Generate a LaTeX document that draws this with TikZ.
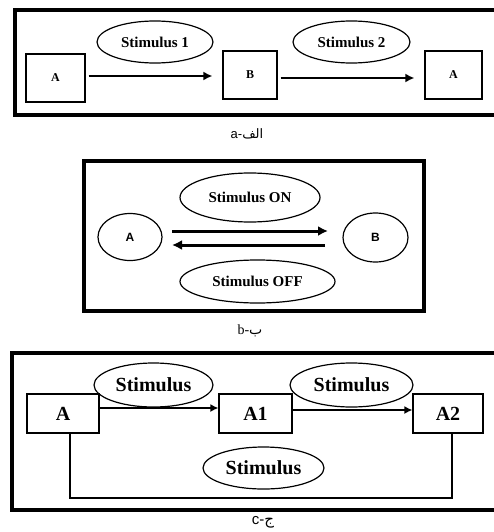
\documentclass[tikz,border=0pt]{standalone}
\usepackage{fontspec}
\setmainfont{Liberation Serif}
\setsansfont{Liberation Sans}
\newfontfamily\arabicfont[Script=Arabic]{DejaVu Sans}
\TeXXeTstate=1
\usetikzlibrary{arrows.meta}
\usetikzlibrary{shapes.geometric}

\tikzset{
  frame/.style={draw,line width=4.5pt},
  statebox/.style={draw,line width=1.2pt,inner sep=0pt},
  stim/.style={draw,ellipse,line width=1.2pt,inner sep=0pt,font=\bfseries},
  caption/.style={font=\sffamily\fontsize{13}{15}\selectfont}
}

\begin{document}
\begin{tikzpicture}[x=1pt,y=-1pt]
  \useasboundingbox (0,0) rectangle (494,532);

  % panel a
  \draw[frame] (15,10) rectangle (499,115);
  \node[statebox,minimum width=59pt,minimum height=48pt,font=\bfseries\fontsize{12}{14}\selectfont] (a1) at (55.5,78) {A};
  \node[statebox,minimum width=54pt,minimum height=48pt,font=\bfseries\fontsize{12}{14}\selectfont] (b1) at (250,75) {B};
  \node[statebox,minimum width=57pt,minimum height=48pt,font=\bfseries\fontsize{12}{14}\selectfont] (a2) at (453.5,75) {A};
  \node[stim,minimum width=116pt,minimum height=42pt,font=\bfseries\fontsize{15}{17}\selectfont] (s1) at (155,42) {Stimulus 1};
  \node[stim,minimum width=117pt,minimum height=42pt,font=\bfseries\fontsize{15}{17}\selectfont] (s2) at (351.5,42) {Stimulus 2};
  \coordinate (a1e) at (a1.east |- 0,76);
  \coordinate (b1w) at (b1.west |- 0,76);
  \coordinate (b1e) at (b1.east |- 0,78);
  \coordinate (a2w) at (a2.west |- 0,78);
  \path[-{Latex[length=9pt,width=9pt]},line width=2.5pt,shorten <=3pt,shorten >=10pt]
    (a1e) edge (b1w)
    (b1e) edge (a2w);
  \node[caption] (capa) at (247,134) {a-{\arabicfont\beginR الف\endR}};

  % panel b
  \draw[frame] (84,161) rectangle (424,311);
  \node[draw,ellipse,line width=1.2pt,minimum width=64pt,minimum height=47pt,font=\sffamily\bfseries\fontsize{12}{14}\selectfont] (ca) at (130,237) {A};
  \node[draw,ellipse,line width=1.2pt,minimum width=65pt,minimum height=49pt,font=\sffamily\bfseries\fontsize{12}{14}\selectfont] (cb) at (375.5,237.5) {B};
  \node[stim,minimum width=140pt,minimum height=49pt,font=\bfseries\fontsize{15}{17}\selectfont] (son) at (250,197.5) {Stimulus ON};
  \node[stim,minimum width=155pt,minimum height=43pt,font=\bfseries\fontsize{15}{17}\selectfont] (soff) at (257.5,281.5) {Stimulus OFF};
  \coordinate (caa) at (172,231);
  \coordinate (cbb) at (328,231);
  \coordinate (cbc) at (325,245);
  \coordinate (cac) at (172,245);
  \path[-{Latex[length=10pt,width=10pt]},line width=3pt]
    (caa) edge (cbb)
    (cbc) edge (cac);
  \node[font=\fontsize{14}{16}\selectfont] (capb) at (250,331) {b-{\arabicfont\beginR ب\endR}};

  % panel c
  \draw[frame] (12,353) rectangle (499,510);
  \node[statebox,minimum width=72pt,minimum height=39pt,font=\bfseries\fontsize{20}{22}\selectfont] (ra) at (63,413.5) {A};
  \node[statebox,minimum width=73pt,minimum height=39pt,font=\bfseries\fontsize{20}{22}\selectfont] (ra1) at (255.5,413.5) {A1};
  \node[statebox,minimum width=70pt,minimum height=39pt,font=\bfseries\fontsize{20}{22}\selectfont] (ra2) at (448,413.5) {A2};
  \node[stim,minimum width=119pt,minimum height=44pt,font=\bfseries\fontsize{20}{22}\selectfont] (t1) at (153.5,385) {Stimulus};
  \node[stim,minimum width=123pt,minimum height=44pt,font=\bfseries\fontsize{20}{22}\selectfont] (t2) at (351.5,385) {Stimulus};
  \node[stim,minimum width=121pt,minimum height=42pt,font=\bfseries\fontsize{20}{22}\selectfont] (t3) at (263.5,468) {Stimulus};
  \coordinate (rae) at (ra.east |- 0,408);
  \coordinate (ra1w) at (ra1.west |- 0,408);
  \coordinate (ra1e) at (ra1.east |- 0,410);
  \coordinate (ra2w) at (ra2.west |- 0,410);
  \path[-{Latex[length=8pt,width=8pt]},line width=1.5pt]
    (rae) edge (ra1w)
    (ra1e) edge (ra2w);
  \coordinate (ra2s) at (452,433);
  \draw[line width=1.5pt] (ra.south -| 70,0) |- (0,498 -| ra2s) -- (ra2s);
  \node[caption,font=\sffamily\fontsize{15}{17}\selectfont] (capc) at (263,522) {c-{\arabicfont\beginR ج\endR}};
\end{tikzpicture}
\end{document}
